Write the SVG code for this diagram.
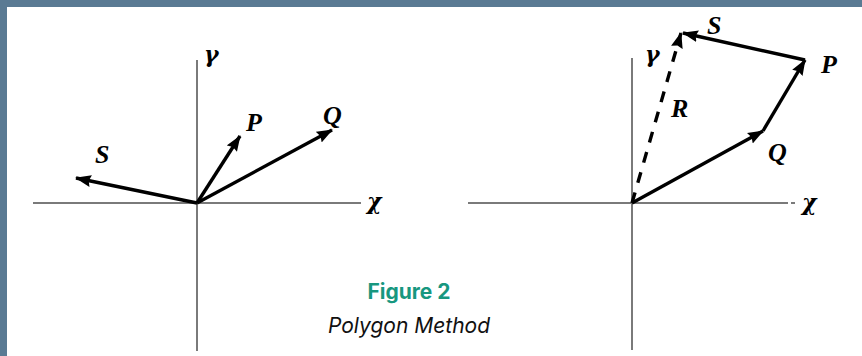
<svg xmlns="http://www.w3.org/2000/svg" width="862" height="356" viewBox="0 0 862 356">
<style>
.axis{stroke:#7a7a7a;stroke-width:2;fill:none}
.vec{stroke:#000;stroke-width:3.4;fill:none;marker-end:url(#ah)}
.dash{stroke-dasharray:11 10}
.lbl{font-family:"Liberation Serif","Times New Roman",serif;font-style:italic;font-weight:bold;font-size:26px;fill:#000}
.greek{font-family:"DejaVu Serif","Noto Serif",serif;font-style:italic;font-weight:bold;font-size:22px;fill:#000}
.fig{font-family:Inter,Roboto,sans-serif;font-weight:bold;font-size:21px;fill:#17977f}
.cap{font-family:Inter,Roboto,sans-serif;font-style:italic;font-size:21px;fill:#111}
</style>
<defs>
<marker id="ah" markerUnits="userSpaceOnUse" markerWidth="17" markerHeight="13" refX="15" refY="6.5" orient="auto">
<path d="M0,0.5 L16,6.5 L0,12.5 L2,6.5 z" fill="#000"/>
</marker>
</defs>
<rect width="862" height="356" fill="#fff"/>
<rect x="0" y="0" width="862" height="7" fill="#5a7a93"/>
<rect x="0" y="0" width="7" height="356" fill="#5a7a93"/>

<g id="left-diagram">
<g id="left-axes">
<line class="axis" x1="197" y1="60" x2="197" y2="351"/>
<line class="axis" x1="33" y1="203" x2="361" y2="203"/>
<text class="greek" x="204" y="62">γ</text>
<text class="greek" x="367" y="209">χ</text>
</g>
<g id="left-vectors">
<line class="vec" x1="197" y1="203" x2="76" y2="178"/>
<line class="vec" x1="197" y1="203" x2="240" y2="136"/>
<line class="vec" x1="197" y1="203" x2="332" y2="130"/>
</g>
<text class="lbl" x="95" y="163">S</text>
<text class="lbl" x="246" y="131">P</text>
<text class="lbl" x="323" y="124">Q</text>
</g>

<g id="right-diagram">
<g id="right-axes">
<line class="axis" x1="632" y1="58" x2="632" y2="350"/>
<line class="axis" x1="468" y1="203" x2="788" y2="203"/>
<line class="axis" x1="791" y1="203" x2="795" y2="203"/>
<text class="greek" x="645" y="62">γ</text>
<text class="greek" x="802" y="210">χ</text>
</g>
<g id="right-vectors">
<line class="vec dash" x1="632" y1="203" x2="681" y2="33"/>
<line class="vec" x1="632" y1="203" x2="763" y2="131"/>
<line class="vec" x1="763" y1="131" x2="805" y2="60"/>
<line class="vec" x1="805" y1="60" x2="683" y2="33"/>
</g>
<text class="lbl" x="707" y="34">S</text>
<text class="lbl" x="821" y="73">P</text>
<text class="lbl" x="671" y="117">R</text>
<text class="lbl" x="768" y="161">Q</text>
</g>

<g id="caption">
<text class="fig" x="409" y="299" text-anchor="middle">Figure 2</text>
<text class="cap" x="409" y="333" text-anchor="middle">Polygon Method</text>
</g>
</svg>
